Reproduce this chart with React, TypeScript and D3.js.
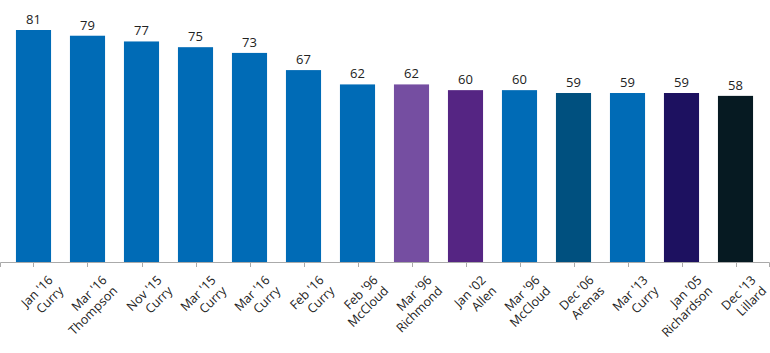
import React, { useEffect, useRef } from 'react';
import * as d3 from 'd3';

const months = ["Jan '16", "Mar '16", "Nov '15", "Mar '15", "Mar '16", "Feb '16", "Feb '96", "Mar '96", "Jan '02", "Mar '96", "Dec '06", "Mar '13", "Jan '05", "Dec '13"];
const players = ['Curry', 'Thompson', 'Curry', 'Curry', 'Curry', 'Curry', 'McCloud', 'Richmond', 'Allen', 'McCloud', 'Arenas', 'Curry', 'Richardson', 'Lillard'];
const values = [81, 79, 77, 75, 73, 67, 62, 62, 60, 60, 59, 59, 59, 58];
const colors = ['#006bb6', '#006bb6', '#006bb6', '#006bb6', '#006bb6', '#006bb6', '#006bb6', '#754ea1', '#552583', '#006bb6', '#00507f', '#006bb6', '#1d1160', '#061a22'];

const App: React.FC = () => {
    const ref = useRef<SVGSVGElement | null>(null);

    useEffect(() => {
        if (!ref.current) return;
        const width = 770;
        const baseY = 262;

        const svg = d3.select(ref.current);
        svg.selectAll('*').remove();

        const keys = values.map((_, i) => String(i));
        const x = d3.scaleBand<string>()
            .domain(keys)
            .range([6.5, 762.5])
            .paddingInner(0.35)
            .paddingOuter(0.175);

        const y = d3.scaleLinear()
            .domain([0, 81])
            .range([baseY, 30]);

        svg.append('g')
            .selectAll('rect')
            .data(values)
            .enter().append('rect')
            .attr('x', (d, i) => x(keys[i])!)
            .attr('y', d => y(d))
            .attr('width', x.bandwidth())
            .attr('height', d => baseY - y(d))
            .attr('fill', (d, i) => colors[i]);

        svg.append('g')
            .selectAll('text')
            .data(values)
            .enter().append('text')
            .attr('x', (d, i) => x(keys[i])! + x.bandwidth() / 2)
            .attr('y', d => y(d) - 6)
            .attr('text-anchor', 'middle')
            .style('font-family', 'Open Sans, sans-serif')
            .style('font-size', '13px')
            .style('fill', '#222')
            .text(d => d);

        // axis line with ticks
        const axis = svg.append('g');
        axis.append('path')
            .attr('d', `M0.5,${baseY + 5}V${baseY + 0.5}H${width - 0.5}V${baseY + 5}`)
            .attr('fill', 'none')
            .attr('stroke', '#aaa')
            .attr('stroke-width', 1);

        keys.forEach((k, i) => {
            const cx = Math.round(x(k)! + x.bandwidth() / 2) + 0.5;
            axis.append('line')
                .attr('x1', cx).attr('x2', cx)
                .attr('y1', baseY).attr('y2', baseY + 5)
                .attr('stroke', '#aaa');

            const t = axis.append('text')
                .attr('transform', `translate(${cx + 20},${baseY + 19}) rotate(-45)`)
                .attr('text-anchor', 'end')
                .style('font-family', 'Open Sans, sans-serif')
                .style('font-size', '12.5px')
                .style('fill', '#222');
            t.append('tspan').attr('x', 0).attr('dy', 0).text(months[i]);
            t.append('tspan').attr('x', 0).attr('dy', 15).text(players[i]);
        });
    }, []);

    return (
        <svg ref={ref} width={770} height={353}
            style={{ position: 'absolute', left: 0, top: 0, background: '#fff' }} />
    );
};

export default App;
